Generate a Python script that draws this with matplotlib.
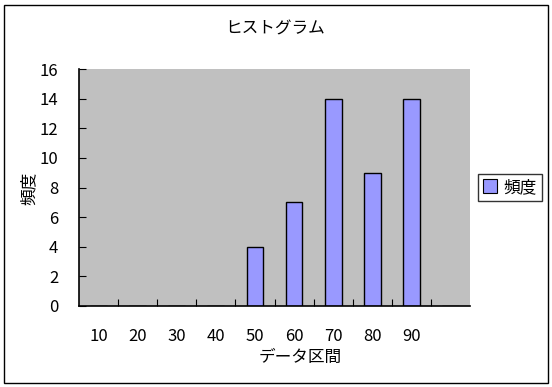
import matplotlib.pyplot as plt
from matplotlib.patches import Rectangle
from matplotlib.lines import Line2D

plt.rcParams['font.family'] = ['Noto Sans CJK JP', 'DejaVu Sans']

# データ
categories = ['10', '20', '30', '40', '50', '60', '70', '80', '90', '']
freq = [0, 0, 0, 0, 4, 7, 14, 9, 14, 0]
yticks = [0, 2, 4, 6, 8, 10, 12, 14, 16]

W, H = 552, 387
fig = plt.figure(figsize=(W / 100, H / 100), dpi=100)
fig.patch.set_facecolor('white')

# 外枠
fig.patches.append(Rectangle((4 / W, 4 / H), 544 / W, 378 / H, transform=fig.transFigure,
                             fill=False, edgecolor='black', linewidth=1.0))

ax = fig.add_axes([79 / W, (H - 306) / H, 391 / W, 237 / H])
ax.set_facecolor('#C0C0C0')

x = list(range(len(categories)))
ax.bar(x, freq, width=0.43, color='#9999FF', edgecolor='black', linewidth=1.0)

ax.set_xlim(-0.5, len(categories) - 0.5)
ax.set_ylim(0, 16)
ax.set_yticks(yticks)
ax.tick_params(axis='y', direction='in', length=5, pad=15, labelsize=12)

# 区切りの目盛りとラベル
ax.set_xticks([i + 0.5 for i in range(len(categories) - 1)])
ax.set_xticklabels([])
ax.tick_params(axis='x', which='major', direction='in', length=5)
ax.set_xticks(x, minor=True)
ax.set_xticklabels(categories, minor=True)
ax.tick_params(axis='x', which='minor', length=0, pad=16, labelsize=12)

for s in ['top', 'right']:
    ax.spines[s].set_visible(False)
ax.spines['left'].set_linewidth(1.2)
ax.spines['bottom'].set_linewidth(1.2)

fig.text(275 / W, 1 - 29 / H, 'ヒストグラム', ha='center', va='center', fontsize=12)
fig.text(300 / W, 1 - 357 / H, 'データ区間', ha='center', va='center', fontsize=12)
fig.text(29 / W, 1 - 188 / H, '頻度', ha='center', va='center', rotation=90, fontsize=12)

handle = Line2D([], [], marker='s', linestyle='none', markersize=10,
                markerfacecolor='#9999FF', markeredgecolor='black', markeredgewidth=0.8)
leg = fig.legend([handle], ['頻度'], loc='center', bbox_to_anchor=(510 / W, 1 - 187.5 / H),
                 fontsize=12, frameon=True, fancybox=False, edgecolor='black',
                 handlelength=0.8, handletextpad=0.4, borderpad=0.3)
leg.get_frame().set_linewidth(1.0)

fig.savefig('out.png', dpi=100)
